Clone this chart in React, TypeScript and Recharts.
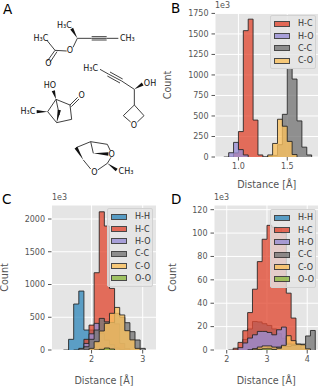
import { AreaChart, Area, XAxis, YAxis, CartesianGrid } from 'recharts';

type Cell = number | null;
const _ = null;

const colors: Record<string, string> = {
  'H-H': '#348ABD',
  'H-C': '#E24A33',
  'H-O': '#988ED5',
  'C-C': '#777777',
  'C-O': '#FBC15E',
  'O-O': '#8EBA42',
};

// panel B
const bEdges = [0.85, 0.9, 0.95, 1.0, 1.05, 1.1, 1.15, 1.2, 1.25, 1.3, 1.35, 1.4, 1.45, 1.5, 1.55, 1.6, 1.65, 1.7, 1.75, 1.8];
const bHC: Cell[] = [_, 0, 50, 310, 1540, 1680, 450, 25, 0, _, _, _, _, _, _, _, _, _, _, _];
const bHO: Cell[] = [0, 52, 178, 90, 25, 0, _, _, _, _, _, _, _, _, _, _, _, _, _, _];
const bCC: Cell[] = [_, _, _, _, _, _, _, _, 0, 10, 20, 150, 520, 1080, 950, 440, 120, 25, 0, _];
const bCO: Cell[] = [_, _, _, _, _, _, _, _, 0, 25, 165, 460, 375, 190, 30, 0, _, _, _, _];
const bXTicks = [1.0, 1.5];
const bYTicks = [0, 250, 500, 750, 1000, 1250, 1500, 1750];

// panel C
const cEdges = [1.45, 1.55, 1.65, 1.75, 1.85, 1.95, 2.05, 2.15, 2.25, 2.35, 2.45, 2.55, 2.65, 2.75, 2.85, 2.95, 3.05, 3.15];
const cHH: Cell[] = [0, 163, 702, 900, 305, 305, 150, 40, 5, 0, _, _, _, _, _, _, _, _];
const cHC: Cell[] = [_, _, _, 0, 163, 380, 1180, 2110, 1893, 940, 400, 100, 20, 0, _, _, _, _];
const cHO: Cell[] = [_, _, _, 0, 100, 247, 407, 250, 150, 80, 30, 5, 0, _, _, _, _, _];
const cCC: Cell[] = [_, _, 0, 25, 50, 163, 305, 483, 430, 420, 560, 500, 417, 280, 153, 25, 0, _];
const cCO: Cell[] = [_, _, _, _, 0, 25, 127, 290, 407, 560, 650, 535, 295, 155, 25, 0, _, _];
const cOO: Cell[] = [_, _, _, _, _, _, 0, 10, 30, 15, 0, _, _, _, _, _, _, _];
const cXTicks = [2, 3];
const cYTicks = [0, 500, 1000, 1500, 2000];

// panel D
const dEdges = [2.04, 2.16, 2.28, 2.4, 2.52, 2.64, 2.76, 2.88, 3.0, 3.12, 3.24, 3.36, 3.48, 3.6, 3.72, 3.84, 3.96, 4.08, 4.2];
const dHH: Cell[] = [_, _, 0, 9, 18, 24.4, 24, 22.5, 21, 18, 14, 10, 6, 3, 1, 0, _, _, _];
const dHC: Cell[] = [0, 1.5, 6.5, 16.5, 32, 52, 75.6, 94.7, 106.6, 105, 104, 100, 48.6, 27.3, 5, 0, _, _, _];
const dHO: Cell[] = [_, 0, 2, 6, 10.2, 13, 15.9, 15.9, 15, 13, 17.3, 19.6, 5, 5, 4, 1, 0, _, _];
const dCC: Cell[] = [_, _, _, _, 0, 1, 1.5, 1.5, 2, 2, 2.5, 3, 3, 4, 4.5, 5, 12, 16.7, 0];
const dCO: Cell[] = [_, _, _, _, 0, 1, 2.5, 3.5, 3.5, 2.5, 1.5, 4, 12.2, 8, 5, 4.5, 1, 0, _];
const dOO: Cell[] = [_, _, _, _, _, 0, 0.5, 1, 1, 0.5, 0, _, _, _, _, _, _, _, _];
const dXTicks = [2, 3, 4];
const dYTicks = [0, 20, 40, 60, 80, 100, 120];

const legendAll = ['H-H', 'H-C', 'H-O', 'C-C', 'C-O', 'O-O'];
const legendB = ['H-C', 'H-O', 'C-C', 'C-O'];

function buildRows(edges: number[], series: Record<string, Cell[]>) {
  return edges.map((x, i) => {
    const row: Record<string, Cell> = { x };
    Object.keys(series).forEach((k) => {
      row[k] = series[k][i];
    });
    return row;
  });
}

type HistProps = {
  left: number;
  top: number;
  width: number;
  height: number;
  plotLeft: number;
  plotRight: number;
  plotTop: number;
  plotBottom: number;
  xDomain: [number, number];
  yMax: number;
  xTicks: number[];
  yTicks: number[];
  xFormat?: (v: number) => string;
  labelX: number;
  edges: number[];
  series: Record<string, Cell[]>;
};

function Hist(p: HistProps) {
  const rows = buildRows(p.edges, p.series);
  return (
    <div style={{ position: 'absolute', left: p.left, top: p.top }}>
      <AreaChart
        width={p.width}
        height={p.height}
        data={rows}
        margin={{ top: p.plotTop, right: p.width - p.plotRight, bottom: 0, left: 0 }}
      >
        <CartesianGrid fill="#E5E5E5" fillOpacity={1} stroke="#FFFFFF" strokeWidth={1} />
        <XAxis
          dataKey="x"
          type="number"
          domain={p.xDomain}
          ticks={p.xTicks}
          tickFormatter={p.xFormat}
          allowDataOverflow
          axisLine={false}
          tickSize={3.5}
          tickMargin={3}
          height={p.height - p.plotBottom}
          tick={{ fontSize: 8, fill: '#555555' }}
          tickLine={{ stroke: '#555555' }}
          label={{ value: 'Distance [Å]', position: 'insideBottom', offset: 2, fontSize: 9.6, fill: '#555555' }}
        />
        <YAxis
          type="number"
          domain={[0, p.yMax]}
          ticks={p.yTicks}
          allowDataOverflow
          interval={0}
          axisLine={false}
          tickSize={3.5}
          tickMargin={3}
          width={p.plotLeft}
          tick={{ fontSize: 8, fill: '#555555' }}
          tickLine={{ stroke: '#555555' }}
          label={{ value: 'Count', angle: -90, position: 'insideLeft', offset: p.labelX, fontSize: 9.6, fill: '#555555', style: { textAnchor: 'middle' } }}
        />
        {Object.keys(p.series).map((k) => (
          <Area
            key={k}
            dataKey={k}
            type="stepAfter"
            fill={colors[k]}
            fillOpacity={0.78}
            stroke="#222222"
            strokeOpacity={0.85}
            strokeWidth={1}
            dot={false}
            activeDot={false}
            isAnimationActive={false}
          />
        ))}
      </AreaChart>
    </div>
  );
}

function LegendBox({ names, left, top, width }: { names: string[]; left: number; top: number; width: number }) {
  return (
    <div
      style={{
        position: 'absolute',
        left,
        top,
        width,
        boxSizing: 'border-box',
        padding: '1.5px 0 1.5px 3px',
        background: 'rgba(229,229,229,0.8)',
        border: '1px solid #D2D2D2',
        borderRadius: 2,
      }}
    >
      {names.map((n) => (
        <div key={n} style={{ display: 'flex', alignItems: 'center', height: 12.35, fontSize: 8, color: '#333333' }}>
          <span
            style={{
              display: 'inline-block',
              boxSizing: 'border-box',
              width: 16,
              height: 6,
              marginRight: 8,
              background: colors[n],
              opacity: 0.8,
              border: '1px solid #222222',
            }}
          />
          {n}
        </div>
      ))}
    </div>
  );
}

// skeletal formulae of panel A, not chart data
const bonds = [
  [232, 115, 275, 115], [320, 115, 355, 115], [275, 110, 320, 110], [275, 115, 320, 115], [275, 120, 320, 120],
  [232, 115, 219, 142], [200, 153, 165, 151], [165, 151, 140, 120], [165, 151, 142, 183], [171, 155, 150, 187],
  [300, 208, 325, 222], [325, 222, 365, 243], [330, 216, 368, 237], [322, 228, 360, 249], [365, 243, 403, 268],
  [403, 268, 403, 315], [403, 315, 432, 347], [432, 347, 412, 366], [392, 366, 370, 347], [370, 347, 403, 315],
  [168, 298, 143, 335], [143, 335, 170, 368], [168, 298, 210, 315], [210, 315, 215, 358], [215, 358, 170, 368],
  [168, 298, 178, 345], [210, 315, 233, 292], [214, 320, 237, 297],
  [272, 425, 322, 433], [322, 433, 331, 452], [272, 425, 280, 460], [250, 480, 272, 507], [322, 490, 333, 472],
  [322, 490, 293, 510], [228, 443, 272, 425],
];
const wedges = [
  [232, 115, 215, 86], [403, 268, 428, 252], [168, 298, 160, 272], [143, 335, 110, 335], [170, 368, 178, 330],
  [250, 480, 228, 443], [280, 460, 325, 462], [322, 490, 350, 510],
];
const atoms: [string, number, number][] = [
  ['H₃C', 193, 85], ['H₃C', 123, 123], ['CH₃', 382, 123], ['O', 210, 159], ['O', 145, 199],
  ['H₃C', 272, 214], ['OH', 450, 257], ['O', 402, 384], ['HO', 150, 264], ['O', 245, 294],
  ['H₃C', 84, 343], ['O', 335, 470], ['O', 283, 525], ['CH₃', 378, 523],
];

function Molecules() {
  return (
    <svg width={165} height={190} viewBox="0 0 495 570" style={{ position: 'absolute', left: 0, top: 0 }}>
      {bonds.map((b, i) => (
        <line key={i} x1={b[0]} y1={b[1]} x2={b[2]} y2={b[3]} stroke="#222" strokeWidth={2.6} />
      ))}
      {wedges.map((w, i) => {
        const dx = w[2] - w[0];
        const dy = w[3] - w[1];
        const l = Math.hypot(dx, dy);
        const nx = (-dy / l) * 5;
        const ny = (dx / l) * 5;
        return <polygon key={i} points={`${w[0]},${w[1]} ${w[2] + nx},${w[3] + ny} ${w[2] - nx},${w[3] - ny}`} fill="#111" />;
      })}
      {atoms.map(([t, x, y], i) => (
        <text key={i} x={x} y={y} fontSize={24} textAnchor="middle" fill="#111">{t}</text>
      ))}
    </svg>
  );
}

const letter = (t: string, left: number, top: number) => (
  <div style={{ position: 'absolute', left, top, fontSize: 13.5, lineHeight: '14px', color: '#000' }}>{t}</div>
);
const offset = (left: number, top: number) => (
  <div style={{ position: 'absolute', left, top, fontSize: 8, lineHeight: '10px', color: '#555555' }}>1e3</div>
);

export default function App() {
  return (
    <div style={{ position: 'absolute', left: 0, top: 0, width: 325, height: 386, background: '#fff', overflow: 'hidden', fontFamily: '"DejaVu Sans", sans-serif' }}>
      <Molecules />
      <Hist
        left={160} top={0} width={165} height={190}
        plotLeft={55} plotRight={158.5} plotTop={13} plotBottom={157}
        xDomain={[0.76, 1.82]} yMax={1755} xTicks={bXTicks} yTicks={bYTicks}
        xFormat={(v) => v.toFixed(1)} labelX={8}
        edges={bEdges} series={{ 'H-C': bHC, 'H-O': bHO, 'C-C': bCC, 'C-O': bCO }}
      />
      <Hist
        left={0} top={190} width={165} height={196}
        plotLeft={51.5} plotRight={156.5} plotTop={15} plotBottom={160}
        xDomain={[1.216, 3.27]} yMax={2214} xTicks={cXTicks} yTicks={cYTicks}
        labelX={5}
        edges={cEdges} series={{ 'H-H': cHH, 'H-C': cHC, 'H-O': cHO, 'C-C': cCC, 'C-O': cCO, 'O-O': cOO }}
      />
      <Hist
        left={160} top={190} width={165} height={196}
        plotLeft={54} plotRight={158.5} plotTop={15} plotBottom={160}
        xDomain={[1.684, 4.28]} yMax={124} xTicks={dXTicks} yTicks={dYTicks}
        labelX={13}
        edges={dEdges} series={{ 'H-H': dHH, 'H-C': dHC, 'H-O': dHO, 'C-C': dCC, 'C-O': dCO, 'O-O': dOO }}
      />
      <LegendBox names={legendB} left={270} top={15} width={46} />
      <LegendBox names={legendAll} left={107} top={208} width={46} />
      <LegendBox names={legendAll} left={270} top={209} width={46} />
      {letter('A', 3, 2)}
      {letter('B', 171, 1)}
      {letter('C', 2, 192)}
      {letter('D', 171, 192)}
      {offset(215, 1)}
      {offset(52, 193)}
      {offset(214, 193)}
    </div>
  );
}
